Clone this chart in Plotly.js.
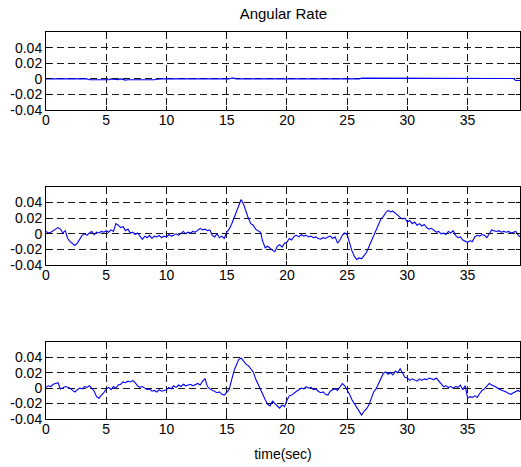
<!DOCTYPE html>
<html>
<head>
<meta charset="utf-8">
<script src="https://cdn.plot.ly/plotly-3.0.1.min.js"></script>
<style>html,body{margin:0;padding:0;background:#fff;}#chart{width:521px;height:467px;}</style>
</head>
<body>
<div id="chart"></div>
<script>
// Sample period of the recorded signals (s)
const samplePeriod = 0.2;

// Top panel (nearly flat)
const rate1 = [
  0,0,0,0,0,0,0,0,0,0,
  0,0,0,0,0,0,0,0,-0.001,-0.001,
  -0.001,-0.001,-0.001,-0.001,-0.001,-0.0005,-0.001,0,-0.0005,-0.001,
  -0.001,0,-0.001,-0.0015,-0.001,-0.001,-0.001,-0.001,-0.0015,-0.001,
  -0.001,-0.001,-0.0015,-0.001,-0.001,-0.001,-0.0005,0,0,0,
  0,0,0,0,0,0,0,0,0.0005,0.0008,
  0.0008,0.0008,0.0008,0.0008,0.0008,0.0008,0.0008,0.0008,0.0008,0.0008,
  0.0008,0.0008,0.0008,0.0008,0,0,0,0.001,0.001,0,
  0,0,0,0,0,0,0,0,0,0,
  0,0,0,0,0,0,0,0,0,0,
  0,0,0,0,0,0,0,0,0,0,
  0,0,0,-0.0008,-0.0008,-0.0008,-0.0008,-0.0008,-0.0008,-0.0008,
  -0.0008,-0.0008,0,0,0,0,0,0,0,0,
  0,0.001,0.001,0.001,0.001,0.001,0.001,0.001,0.001,0.001,
  0.001,0.001,0.001,0.001,0.001,0.001,0.001,0.001,0.001,0.001,
  0.001,0.001,0.001,0.001,0.001,0.001,0.001,0.001,0.001,0.001,
  0.001,0.001,0.001,0.001,0.001,0.001,0.001,0.001,0.001,0.001,
  0.001,0.001,0.001,0.001,0.001,0.001,0.001,0.001,0.001,0.001,
  0.001,0.001,0.001,0.001,0.001,0.001,0.001,0.001,0.001,0.001,
  0.001,0.001,0.001,0.001,0.0005,-0.002,-0.002,-0.002
];

// Middle panel
const rate2 = [
  0.003,0.001,0.002,0.004,0.005,0.008,0.006,0.001,0.004,-0.006,
  -0.010,-0.013,-0.015,-0.012,-0.007,-0.002,0.000,-0.002,0.001,0.003,
  -0.001,0.002,0.001,0.003,0.002,0.004,0.002,0.005,0.003,0.013,
  0.011,0.008,0.009,0.004,0.006,0.001,0.002,-0.001,0.001,-0.003,
  -0.007,-0.003,-0.005,-0.002,-0.006,-0.003,-0.004,-0.002,-0.005,-0.003,
  -0.004,-0.001,-0.003,-0.002,0.000,-0.002,0.001,0.003,0.000,0.002,
  0.001,0.003,0.002,0.004,0.007,0.005,0.006,0.004,0.005,-0.002,
  -0.004,0.000,-0.005,-0.003,-0.006,0.002,0.006,0.012,0.020,0.028,
  0.037,0.044,0.038,0.028,0.020,0.013,0.011,0.006,0.004,0.002,
  -0.010,-0.018,-0.016,-0.019,-0.021,-0.023,-0.016,-0.014,-0.017,-0.012,
  -0.011,-0.006,-0.008,-0.003,-0.002,-0.004,-0.001,-0.003,-0.002,-0.004,
  -0.003,-0.005,-0.004,-0.006,-0.007,-0.005,-0.006,-0.004,-0.003,-0.006,
  -0.004,-0.012,-0.008,-0.002,0.001,-0.001,-0.012,-0.022,-0.029,-0.033,
  -0.031,-0.032,-0.028,-0.024,-0.017,-0.010,-0.002,0.006,0.013,0.019,
  0.022,0.027,0.030,0.028,0.029,0.026,0.023,0.021,0.019,0.020,
  0.015,0.017,0.013,0.015,0.011,0.013,0.010,0.012,0.008,0.006,
  0.007,0.004,0.002,0.003,0.000,0.001,-0.001,0.003,0.001,0.004,
  -0.002,-0.005,-0.004,-0.008,-0.010,-0.011,-0.009,-0.010,-0.004,-0.002,
  -0.003,-0.001,-0.002,-0.005,0.000,0.005,0.004,0.003,0.004,0.002,
  0.003,0.002,0.003,0.001,0.002,0.003,-0.002,-0.004
];

// Bottom panel
const rate3 = [
  0.001,0.003,0.002,0.005,0.006,0.007,-0.001,0.000,0.002,0.001,
  0.000,-0.003,-0.005,-0.002,0.000,-0.001,0.002,0.001,0.003,0.000,
  -0.004,-0.011,-0.013,-0.009,-0.006,-0.001,0.001,-0.002,0.002,0.000,
  0.004,0.005,0.008,0.007,0.009,0.008,0.010,0.007,0.003,0.001,
  0.002,0.000,-0.002,-0.001,-0.004,-0.003,-0.005,-0.002,-0.004,-0.003,
  -0.002,0.001,-0.001,0.003,0.001,0.004,0.002,0.005,0.003,0.004,
  0.005,0.003,0.005,0.006,0.004,0.009,0.012,0.002,-0.001,-0.003,
  -0.004,-0.006,-0.005,-0.008,-0.009,-0.006,-0.002,0.010,0.022,0.030,
  0.037,0.039,0.035,0.031,0.029,0.025,0.021,0.012,0.005,-0.003,
  -0.010,-0.015,-0.021,-0.023,-0.017,-0.020,-0.024,-0.026,-0.022,-0.024,
  -0.016,-0.010,-0.009,-0.006,-0.004,-0.002,0.000,-0.001,0.002,0.000,
  0.001,-0.002,-0.001,-0.004,-0.006,-0.005,-0.008,-0.009,-0.004,-0.002,
  -0.001,-0.003,0.001,0.006,0.003,-0.002,-0.008,-0.015,-0.020,-0.026,
  -0.031,-0.035,-0.030,-0.027,-0.022,-0.014,-0.005,-0.001,0.006,0.013,
  0.019,0.021,0.018,0.020,0.017,0.022,0.020,0.025,0.019,0.014,
  0.013,0.010,0.012,0.011,0.009,0.012,0.010,0.012,0.011,0.013,
  0.012,0.011,0.013,0.009,0.005,0.002,0.003,0.001,0.002,0.000,
  0.002,0.001,0.004,-0.002,0.003,-0.013,-0.011,-0.012,-0.010,-0.012,
  -0.007,-0.003,-0.001,0.002,0.006,0.004,0.003,0.001,-0.001,-0.002,
  -0.003,-0.005,-0.007,-0.008,-0.006,-0.004,-0.003,-0.005
];

const xTicks = [0, 5, 10, 15, 20, 25, 30, 35];
const yTicks = [0.04, 0.02, 0, -0.02, -0.04];
const yTickText = ['0.04', '0.02', '0', '-0.02', '-0.04'];

const time = rate2.map((_, i) => +(i * samplePeriod).toFixed(1));

const series = [rate1, rate2, rate3];
const traces = series.map((vals, k) => ({
  x: time, y: vals, type: 'scatter', mode: 'lines',
  line: {color: '#0000ff', width: 1.1},
  xaxis: k === 0 ? 'x' : 'x' + (k + 1),
  yaxis: k === 0 ? 'y' : 'y' + (k + 1),
  hoverinfo: 'skip', showlegend: false
}));

const font = {family: '"Liberation Sans", Arial, sans-serif', size: 14, color: '#000'};
function xax(anchor) {
  return {
    anchor: anchor, range: [0, 39.35], tickvals: xTicks,
    ticks: 'inside', ticklen: 4, tickcolor: '#000',
    showline: true, linecolor: '#000', linewidth: 1, mirror: 'ticks',
    showgrid: true, gridcolor: '#1a1a1a', griddash: '7px,4px', gridwidth: 1,
    zeroline: false, tickfont: font, fixedrange: true, ticklabelstandoff: -3
  };
}
function yax(anchor, dom) {
  return {
    anchor: anchor, domain: dom, range: [-0.04, 0.06],
    tickvals: yTicks, ticktext: yTickText,
    ticks: 'inside', ticklen: 4, tickcolor: '#000',
    showline: true, linecolor: '#000', linewidth: 1, mirror: 'ticks',
    showgrid: true, gridcolor: '#1a1a1a', griddash: '7px,4px', gridwidth: 1,
    zeroline: false, tickfont: font, fixedrange: true
  };
}

const x3 = xax('y3');
x3.title = {text: 'time(sec)', font: font, standoff: 13};

const layout = {
  width: 521, height: 467,
  margin: {l: 46, r: 1, t: 32, b: 48},
  paper_bgcolor: '#fff', plot_bgcolor: '#fff',
  font: font,
  title: {text: 'Angular Rate', font: {family: font.family, size: 15, color: '#000'},
          x: 0.544, xanchor: 'center', y: 0.971, yanchor: 'middle'},
  xaxis: xax('y'), yaxis: yax('x', [0.798, 1]),
  xaxis2: xax('y2'), yaxis2: yax('x2', [0.398, 0.5995]),
  xaxis3: x3, yaxis3: yax('x3', [0, 0.1995])
};

Plotly.newPlot('chart', traces, layout, {displayModeBar: false, staticPlot: true});
</script>
</body>
</html>
